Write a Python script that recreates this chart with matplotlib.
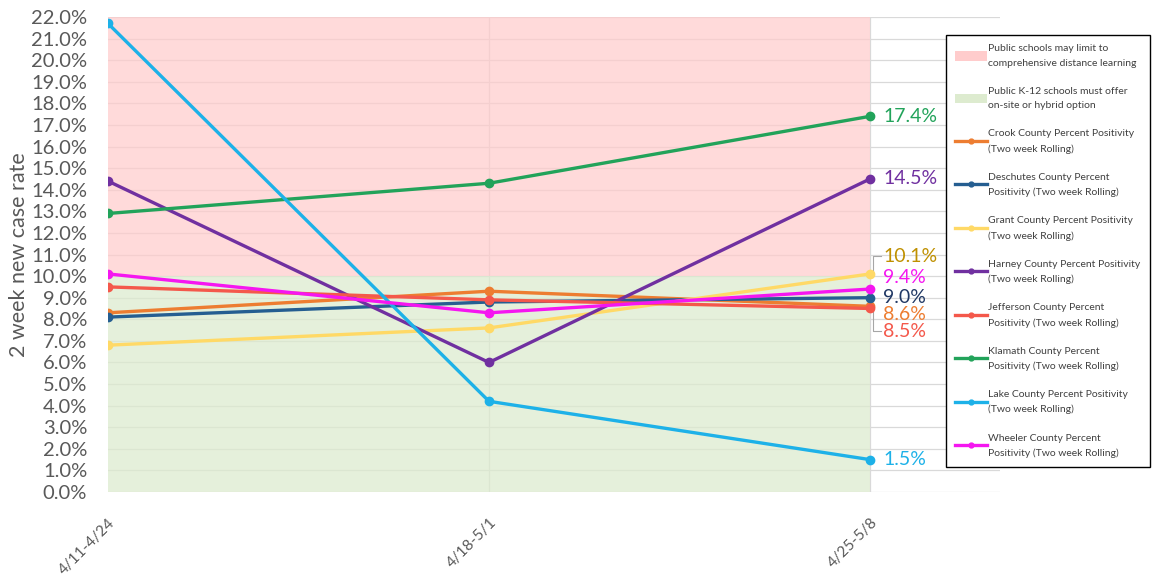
import matplotlib
matplotlib.use("Agg")
import matplotlib.pyplot as plt
from matplotlib.patches import Patch
from matplotlib.lines import Line2D

plt.rcParams['font.family'] = ['Lato', 'DejaVu Sans']

# ---- data (percent positivity, two-week rolling) ----
periods = ["4/11-4/24", "4/18-5/1", "4/25-5/8"]
crook = [8.3, 9.3, 8.6]
deschutes = [8.1, 8.8, 9.0]
grant = [6.8, 7.6, 10.1]
harney = [14.4, 6.0, 14.5]
jefferson = [9.5, 8.9, 8.5]
klamath = [12.9, 14.3, 17.4]
lake = [21.7, 4.2, 1.5]
wheeler = [10.1, 8.3, 9.4]
threshold = 10.0
y_top = 22.0

series = [
    ("Crook County Percent Positivity\n(Two week Rolling)", crook, "#ED7D31", "#ED7D31"),
    ("Deschutes County Percent\nPositivity (Two week Rolling)", deschutes, "#255E91", "#203864"),
    ("Grant County Percent Positivity\n(Two week Rolling)", grant, "#FFD966", "#BF9000"),
    ("Harney County Percent Positivity\n(Two week Rolling)", harney, "#7030A0", "#7030A0"),
    ("Jefferson County Percent\nPositivity (Two week Rolling)", jefferson, "#F4584B", "#F4584B"),
    ("Klamath County Percent\nPositivity (Two week Rolling)", klamath, "#22A35A", "#22A35A"),
    ("Lake County Percent Positivity\n(Two week Rolling)", lake, "#1DB1E8", "#1DB1E8"),
    ("Wheeler County Percent\nPositivity (Two week Rolling)", wheeler, "#F516F0", "#F516F0"),
]
# label y positions (spread out like the original data labels)
label_y = {"crook": 8.24, "deschutes": 9.03, "grant": 10.93, "harney": 14.5,
           "jefferson": 7.45, "klamath": 17.4, "lake": 1.5, "wheeler": 9.95}
label_keys = ["crook", "deschutes", "grant", "harney", "jefferson", "klamath", "lake", "wheeler"]

W, H = 1159, 575
fig = plt.figure(figsize=(W / 100, H / 100), dpi=100)
ax = fig.add_axes([108 / W, 1 - 492 / H, (1000 - 108) / W, (492 - 17) / H])

x = list(range(len(periods)))
ax.set_xlim(0, 892 / 381)
ax.set_ylim(0, y_top)

# background zones
ax.fill_between([x[0], x[-1]], threshold, y_top, color="#FFCCCC", alpha=0.72, lw=0, zorder=1)
ax.fill_between([x[0], x[-1]], 0, threshold, color="#DDEBCF", alpha=0.75, lw=0, zorder=1)

# grid
for v in range(0, 23):
    ax.axhline(v, color="#D9D9D9", lw=0.9, zorder=0.5)
for xi in x[1:]:
    ax.axvline(xi, color="#D9D9D9", lw=0.9, zorder=0.5)

for (name, vals, col, lcol), key in zip(series, label_keys):
    ax.plot(x, vals, color=col, lw=2.4, marker="o", ms=6, zorder=3, solid_capstyle="round")
    ax.text(x[-1] + 0.035, label_y[key], f"{vals[-1]:.1f}%", color=lcol,
            fontsize=14, va="center", ha="left", zorder=4)

# leader lines for the shifted labels
ax.plot([2.03, 2.008, 2.008], [10.93, 10.93, 10.15], color="#A6A6A6", lw=0.8, zorder=2, clip_on=False)
ax.plot([2.008, 2.008, 2.03], [8.55, 7.45, 7.45], color="#A6A6A6", lw=0.8, zorder=2, clip_on=False)

ax.set_yticks(range(0, 23))
ax.set_yticklabels([f"{v:.1f}%" for v in range(0, 23)], fontsize=14.5, color="#595959")
ax.set_xticks(x)
ax.set_xticklabels(periods, rotation=45, ha="right", rotation_mode="anchor",
                   fontsize=11, color="#595959")
ax.tick_params(axis="y", length=0, pad=15)
ax.tick_params(axis="x", length=0, pad=17)
for s in ax.spines.values():
    s.set_visible(False)
ax.set_ylabel("2 week new case rate", fontsize=15.5, color="#595959")
ax.yaxis.set_label_coords(-79 / 892, 0.5)

handles = [Patch(facecolor="#FFCCCC", edgecolor="none"),
           Patch(facecolor="#DDEBCF", edgecolor="none")]
labels = ["Public schools may limit to\ncomprehensive distance learning",
          "Public K-12 schools must offer\non-site or hybrid option"]
for name, vals, col, lcol in series:
    handles.append(Line2D([0], [0], color=col, lw=2.4, marker="o", ms=3.5))
    labels.append(name)

leg = fig.legend(handles, labels, loc="upper left", bbox_to_anchor=(946 / W, 1 - 35 / H),
                 fontsize=7.5, frameon=True, fancybox=False, edgecolor="black",
                 framealpha=1, borderpad=0.9, handlelength=3.0, handleheight=1.0,
                 handletextpad=0.15, labelspacing=1.85, borderaxespad=0)
leg.get_frame().set_linewidth(1.0)
for t in leg.get_texts():
    t.set_color("#404040")
    t.set_linespacing(1.75)

fig.savefig("out.png", dpi=100)
